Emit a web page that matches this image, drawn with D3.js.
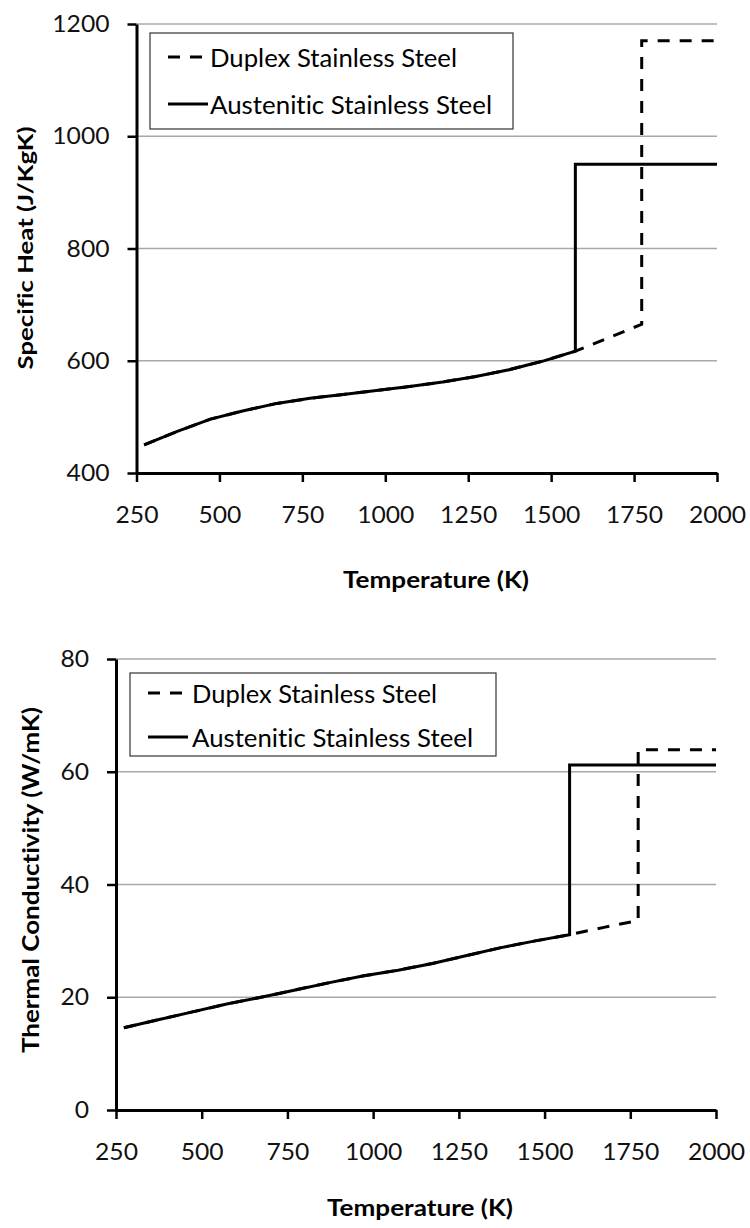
<!DOCTYPE html>
<html>
<head>
<meta charset="utf-8">
<script src="https://cdn.jsdelivr.net/npm/d3@7"></script>
<style>
  html, body { margin: 0; padding: 0; background: #fff; }
  svg { display: block; font-family: Lato, "Open Sans", sans-serif; font-variant-ligatures: none; font-feature-settings: "liga" 0; }
</style>
</head>
<body>
<svg id="chart" width="750" height="1228"></svg>
<script>
// ---------------- DATA ----------------
const xTicks = [250, 500, 750, 1000, 1250, 1500, 1750, 2000];
const seriesNames = ["Duplex Stainless Steel", "Austenitic Stainless Steel"];

// Specific heat (J/KgK)
const cpTicks = [400, 600, 800, 1000, 1200];
const cpDuplexT = [273, 373, 473, 573, 673, 773, 873, 973, 1073, 1173, 1273, 1373, 1473, 1573, 1673, 1773, 1773, 2000];
const cpDuplexV = [450, 474, 496, 511, 524, 533, 540, 547, 554, 562, 572, 584, 599, 617, 641, 665, 1170, 1170];
const cpAustT = [273, 373, 473, 573, 673, 773, 873, 973, 1073, 1173, 1273, 1373, 1473, 1573, 1573, 2000];
const cpAustV = [450, 474, 496, 511, 524, 533, 540, 547, 554, 562, 572, 584, 599, 617, 950, 950];

// Thermal conductivity (W/mK)
const kTicks = [0, 20, 40, 60, 80];
const kDuplexT = [273, 373, 473, 573, 673, 773, 873, 973, 1073, 1173, 1273, 1373, 1473, 1573, 1673, 1773, 1773, 2000];
const kDuplexV = [14.6, 16.0, 17.4, 18.8, 20.0, 21.3, 22.6, 23.8, 24.8, 26.0, 27.4, 28.8, 30.0, 31.1, 32.4, 33.6, 63.9, 63.9];
const kAustT = [273, 373, 473, 573, 673, 773, 873, 973, 1073, 1173, 1273, 1373, 1473, 1573, 1573, 2000];
const kAustV = [14.6, 16.0, 17.4, 18.8, 20.0, 21.3, 22.6, 23.8, 24.8, 26.0, 27.4, 28.8, 30.0, 31.1, 61.2, 61.2];

// ---------------- DRAW ----------------
const svg = d3.select("#chart");
const fmt = d3.format("d");

function zip(xs, ys) { return xs.map((x, i) => [x, ys[i]]); }

function styleTicks(sel) {
  sel.selectAll(".tick text")
    .attr("font-size", 24).attr("fill", "#111")
    .attr("font-family", "Lato, sans-serif")
    .attr("lengthAdjust", "spacingAndGlyphs")
    .attr("textLength", function() { return this.textContent.length * 14.3; });
}

function drawPanel(cfg) {
  const g = svg.append("g");
  const x = d3.scaleLinear().domain([250, 2000]).range([cfg.left, cfg.right]);
  const y = d3.scaleLinear().domain(cfg.yDomain).range([cfg.bottom, cfg.top]);

  // gridlines
  g.append("g").selectAll("line").data(cfg.yTicks.slice(1)).join("line")
    .attr("x1", cfg.left).attr("x2", cfg.right)
    .attr("y1", d => y(d)).attr("y2", d => y(d))
    .attr("stroke", "#a8a8a8").attr("stroke-width", 1.5);

  // y axis
  const ya = g.append("g").attr("transform", `translate(${cfg.left},0)`)
    .call(d3.axisLeft(y).tickValues(cfg.yTicks).tickFormat(fmt).tickSize(9).tickPadding(18).tickSizeOuter(0));
  ya.select(".domain").attr("stroke", "#000").attr("stroke-width", 3);
  ya.selectAll(".tick line").attr("stroke", "#000").attr("stroke-width", 2.5);
  styleTicks(ya);

  // x axis
  const xa = g.append("g").attr("transform", `translate(0,${cfg.bottom})`)
    .call(d3.axisBottom(x).tickValues(xTicks).tickFormat(fmt).tickSize(9).tickPadding(24).tickSizeOuter(0));
  xa.select(".domain").attr("stroke", "#000").attr("stroke-width", 3);
  xa.selectAll(".tick line").attr("stroke", "#000").attr("stroke-width", 2.5);
  styleTicks(xa);

  const line = d3.line().x(d => x(d[0])).y(d => y(d[1]));

  // duplex (dashed)
  g.append("path").datum(zip(cfg.duplexT, cfg.duplexV))
    .attr("d", line).attr("fill", "none").attr("stroke", "#000")
    .attr("stroke-width", 3).attr("stroke-dasharray", "12,10");
  // austenitic (solid)
  g.append("path").datum(zip(cfg.austT, cfg.austV))
    .attr("d", line).attr("fill", "none").attr("stroke", "#000")
    .attr("stroke-width", 3).attr("stroke-linejoin", "miter");

  // y title
  g.append("text")
    .attr("transform", `translate(${cfg.yTitleX},${cfg.yTitleY}) rotate(-90)`)
    .attr("text-anchor", "middle").attr("dominant-baseline", "central")
    .attr("font-size", cfg.yTitleSize).attr("font-weight", "bold")
    .attr("textLength", cfg.yTitleLen).attr("lengthAdjust", "spacingAndGlyphs")
    .text(cfg.yTitle);

  // x title
  g.append("text")
    .attr("x", cfg.xTitleX).attr("y", cfg.xTitleY)
    .attr("text-anchor", "middle").attr("dominant-baseline", "central")
    .attr("font-size", 22).attr("font-weight", "bold")
    .attr("textLength", 186).attr("lengthAdjust", "spacingAndGlyphs")
    .text("Temperature (K)");

  // legend
  const L = cfg.legend;
  const lg = g.append("g");
  lg.append("rect").attr("x", L.x).attr("y", L.y).attr("width", L.w).attr("height", L.h)
    .attr("fill", "#fff").attr("stroke", "#333").attr("stroke-width", 1.2);
  seriesNames.forEach((name, i) => {
    const cy = L.y + L.rows[i];
    lg.append("line").attr("x1", L.sx1).attr("x2", L.sx2).attr("y1", cy).attr("y2", cy)
      .attr("stroke", "#000").attr("stroke-width", 3)
      .attr("stroke-dasharray", i === 0 ? "12,10" : null);
    lg.append("text").attr("x", L.tx).attr("y", cy)
      .attr("dominant-baseline", "central").attr("font-size", 25)
      .attr("textLength", L.lens[i]).attr("lengthAdjust", "spacingAndGlyphs")
      .text(name);
  });
}

drawPanel({
  left: 136.5, right: 717, top: 24, bottom: 473,
  yDomain: [400, 1200], yTicks: cpTicks,
  duplexT: cpDuplexT, duplexV: cpDuplexV, austT: cpAustT, austV: cpAustV,
  yTitle: "Specific Heat (J/KgK)", yTitleX: 24, yTitleY: 248, yTitleSize: 21, yTitleLen: 243,
  xTitleX: 436, xTitleY: 579,
  legend: { x: 150, y: 33, w: 363, h: 96, rows: [24, 71], sx1: 168, sx2: 208, tx: 210, lens: [247, 282] }
});

drawPanel({
  left: 116, right: 716, top: 659, bottom: 1110,
  yDomain: [0, 80], yTicks: kTicks,
  duplexT: kDuplexT, duplexV: kDuplexV, austT: kAustT, austV: kAustV,
  yTitle: "Thermal Conductivity (W/mK)", yTitleX: 30, yTitleY: 880, yTitleSize: 22, yTitleLen: 346,
  xTitleX: 420, xTitleY: 1207,
  legend: { x: 130, y: 673, w: 366, h: 83, rows: [20, 64], sx1: 148, sx2: 188, tx: 192, lens: [245, 281] }
});
</script>
</body>
</html>
